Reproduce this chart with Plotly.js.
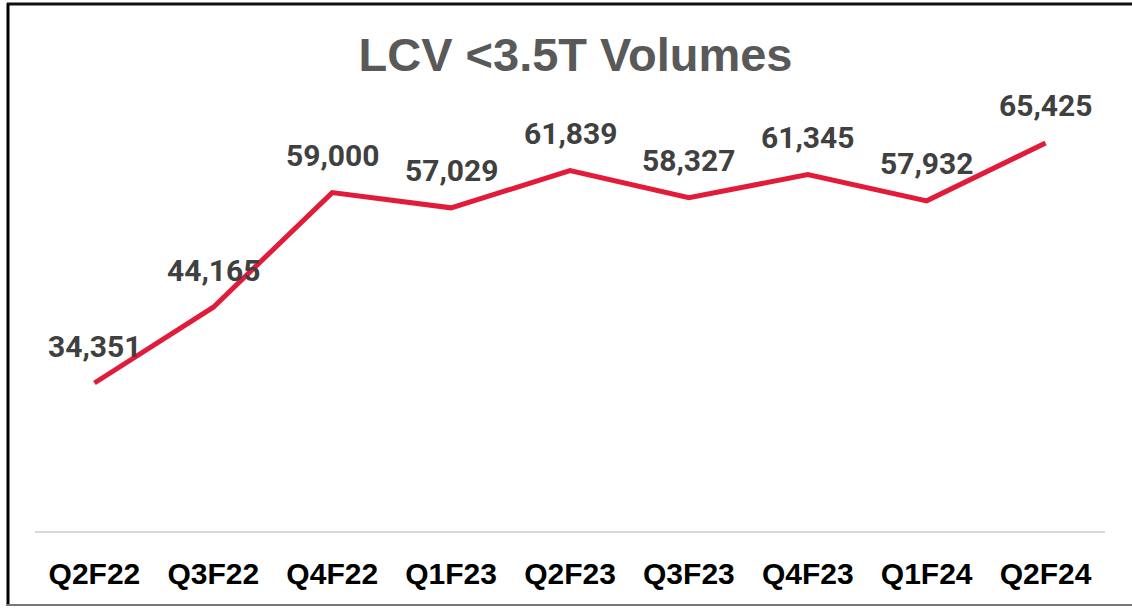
<!DOCTYPE html>
<html>
<head>
<meta charset="utf-8">
<script src="https://cdn.plot.ly/plotly-3.0.1.min.js"></script>
<style>
  html, body { margin: 0; padding: 0; background: #ffffff; }
  #chart { width: 1132px; height: 608px; }
</style>
</head>
<body>
<div id="chart"></div>
<script>
const quarters = ["Q2F22", "Q3F22", "Q4F22", "Q1F23", "Q2F23", "Q3F23", "Q4F23", "Q1F24", "Q2F24"];
const volumes = [34351, 44165, 59000, 57029, 61839, 58327, 61345, 57932, 65425];
const titleText = "LCV <3.5T Volumes";

const fmt = v => v.toLocaleString("en-US");

const trace = {
  type: "scatter",
  mode: "lines",
  x: quarters,
  y: volumes,
  line: { color: "#E31B3B", width: 5 },
  hoverinfo: "x+y"
};

const labelAnnotations = quarters.map((q, i) => ({
  x: q,
  y: volumes[i],
  xref: "x",
  yref: "y",
  text: fmt(volumes[i]),
  showarrow: false,
  xanchor: "center",
  yanchor: "middle",
  yshift: 37,
  font: { family: "Roboto", size: 30, color: "#404040", weight: 700 }
}));

// frame lines (pixel -> paper conversion)
const L = 35, R = 1105, T = 108, B = 531;
const px = v => (v - L) / (R - L);
const py = v => (B - v) / (B - T);

const shapes = [
  { type: "line", xref: "paper", yref: "paper", x0: px(8), x1: px(8), y0: py(3), y1: py(606), line: { color: "#000000", width: 3 } },
  { type: "line", xref: "paper", yref: "paper", x0: px(7), x1: px(1132), y0: py(4), y1: py(4), line: { color: "#111111", width: 3 } },
  { type: "line", xref: "paper", yref: "paper", x0: px(7), x1: px(1132), y0: py(605), y1: py(605), line: { color: "#777777", width: 2 } }
];

const layout = {
  width: 1132,
  height: 608,
  margin: { l: L, r: 1132 - R, t: T, b: 608 - B },
  paper_bgcolor: "#ffffff",
  plot_bgcolor: "#ffffff",
  showlegend: false,
  title: {
    text: titleText,
    xref: "container",
    yref: "container",
    x: 575.5 / 1132,
    y: 1 - 55 / 608,
    xanchor: "center",
    yanchor: "middle",
    font: { family: "Liberation Sans", size: 47, color: "#595959", weight: 700 }
  },
  xaxis: {
    type: "category",
    range: [-0.5, 8.5],
    showgrid: false,
    zeroline: false,
    showline: true,
    linecolor: "#D9D9D9",
    linewidth: 2,
    ticks: "",
    ticklabelstandoff: 15,
    tickfont: { family: "Liberation Sans", size: 30, color: "#000000", weight: 700 },
    fixedrange: true
  },
  yaxis: {
    range: [15190, 69954],
    showgrid: false,
    zeroline: false,
    showline: false,
    showticklabels: false,
    ticks: "",
    fixedrange: true
  },
  annotations: labelAnnotations,
  shapes: shapes
};

Plotly.newPlot("chart", [trace], layout, { displayModeBar: false, staticPlot: true });
</script>
</body>
</html>
